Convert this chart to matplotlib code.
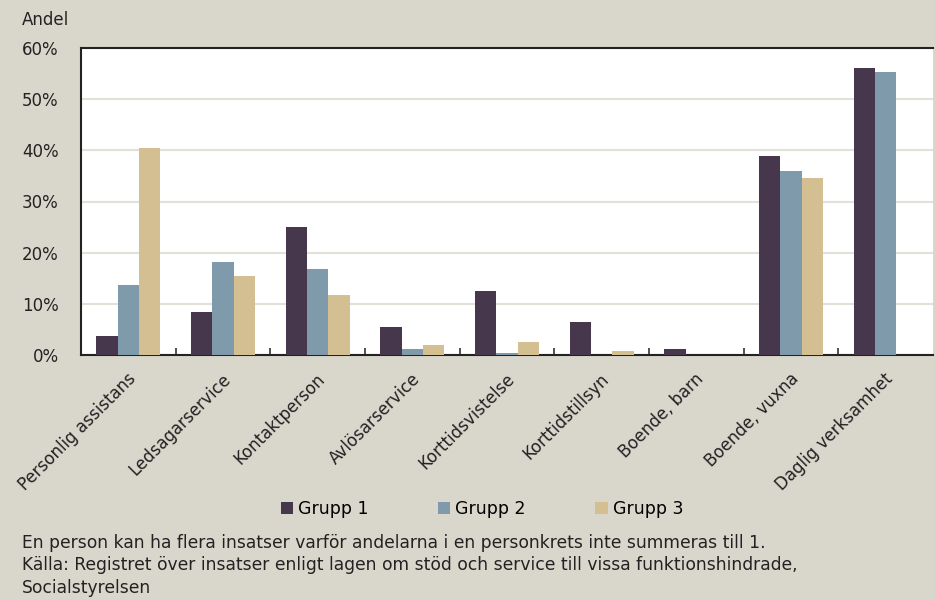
import numpy as np
import matplotlib
matplotlib.use("Agg")
from matplotlib import pyplot as plt
from matplotlib.ticker import PercentFormatter

categories = ["Personlig assistans", "Ledsagarservice", "Kontaktperson", "Avlösarservice",
              "Korttidsvistelse", "Korttidstillsyn", "Boende, barn", "Boende, vuxna",
              "Daglig verksamhet"]
grupp1 = [3.7, 8.4, 25.0, 5.5, 12.6, 6.4, 1.2, 38.8, 56.0]
grupp2 = [13.7, 18.2, 16.8, 1.2, 0.4, 0.0, 0.0, 36.0, 55.4]
grupp3 = [40.5, 15.4, 11.7, 2.0, 2.5, 0.8, 0.0, 34.6, 0.0]
series = ["Grupp 1", "Grupp 2", "Grupp 3"]
colors = ["#46374c", "#7e9aab", "#d4bf93"]
bg = "#d9d7cc"

plt.rcParams["font.family"] = ["DejaVu Sans"]

fig = plt.figure(figsize=(9.35, 6), dpi=100, facecolor=bg)
ax = fig.add_axes([81/935, 245/600, 852/935, 307/600])
ax.set_facecolor("white")

x = np.arange(len(categories))
w = 0.225
for i, vals in enumerate([grupp1, grupp2, grupp3]):
    ax.bar(x + (i - 1) * w, vals, width=w, color=colors[i], label=series[i], zorder=3)

ax.set_xlim(-0.5, len(categories) - 0.5)
ax.set_ylim(0, 60)
ax.set_yticks(np.arange(0, 61, 10))
ax.yaxis.set_major_formatter(PercentFormatter(decimals=0))
ax.grid(axis="y", color="#e2e0d8", linewidth=1.5, zorder=0)

for s in ["left", "bottom", "top"]:
    ax.spines[s].set_color("#222222")
    ax.spines[s].set_linewidth(1.5)
ax.spines["right"].set_visible(False)

ax.tick_params(axis="y", length=0, labelsize=12, pad=16, colors="#222222")
ax.set_xticks(x)
ax.set_xticklabels([])
ax.tick_params(axis="x", which="major", length=0)
ax.set_xticks(x[:-1] + 0.5, minor=True)
ax.tick_params(axis="x", which="minor", direction="in", length=5, width=1.2, color="#333333")

for xi, lab in zip(x, categories):
    ax.text(xi + 0.05, -4.2, lab, rotation=45, ha="right", va="center",
            rotation_mode="anchor", fontsize=12, color="#222222", clip_on=False)

fig.text(22/935, 1 - 20/600, "Andel", fontsize=12, va="center", color="#222222")

leg = fig.legend(loc="center", bbox_to_anchor=(482/935, 1 - 509/600), ncol=3, frameon=False,
                 fontsize=12.5, handlelength=0.7, handleheight=0.7, handletextpad=0.3,
                 columnspacing=4.0)

notes = ["En person kan ha flera insatser varför andelarna i en personkrets inte summeras till 1.",
         "Källa: Registret över insatser enligt lagen om stöd och service till vissa funktionshindrade,",
         "Socialstyrelsen"]
for j, line in enumerate(notes):
    fig.text(22/935, 1 - (543 + j * 22.5)/600, line, fontsize=12.3, va="center", color="#222222")

fig.savefig("out.png", dpi=100, facecolor=bg)
